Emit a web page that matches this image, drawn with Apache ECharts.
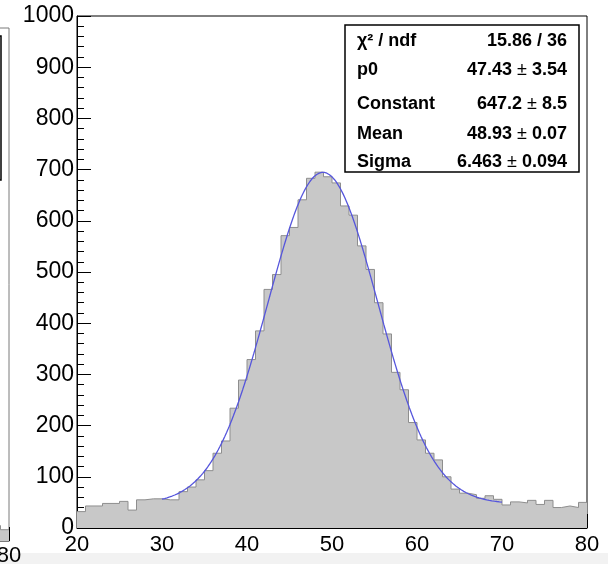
<!DOCTYPE html>
<html>
<head>
<meta charset="utf-8">
<script src="https://cdn.jsdelivr.net/npm/echarts@6/dist/echarts.min.js"></script>
<style>
  html, body { margin: 0; padding: 0; background: #fff; }
  #chart { width: 608px; height: 564px; }
</style>
</head>
<body>
<div id="chart"></div>
<script>
// Histogram: one-unit bins from 20 to 80 (lower edges and counts)
const binLowEdges = [
  20, 21, 22, 23, 24, 25, 26, 27, 28, 29,
  30, 31, 32, 33, 34, 35, 36, 37, 38, 39,
  40, 41, 42, 43, 44, 45, 46, 47, 48, 49,
  50, 51, 52, 53, 54, 55, 56, 57, 58, 59,
  60, 61, 62, 63, 64, 65, 66, 67, 68, 69,
  70, 71, 72, 73, 74, 75, 76, 77, 78, 79
];
const binCounts = [
  32, 43, 43, 48, 48, 52, 35, 55, 57, 57,
  55, 55, 71, 80, 94, 112, 146, 170, 234, 289,
  329, 385, 466, 495, 571, 587, 641, 683, 695, 686,
  674, 629, 611, 551, 505, 440, 379, 304, 270, 206,
  172, 146, 133, 100, 76, 68, 65, 58, 63, 56,
  45, 51, 49, 54, 46, 54, 40, 43, 40, 50
];
const histUpperEdge = 80;

// Fit: pol0 + gaus, fitted over [30, 70]
const fitNames  = ['p0', 'Constant', 'Mean', 'Sigma'];
const fitValues = [47.43, 647.2, 48.93, 6.463];
const fitErrors = [3.54, 8.5, 0.07, 0.094];
const fitRange  = [30, 70];
const fitChi2   = 15.86;
const fitNdf    = 36;

// Axis ticks
const xTicks = [20, 30, 40, 50, 60, 70, 80];
const yTicks = [0, 100, 200, 300, 400, 500, 600, 700, 800, 900, 1000];

// Tail of the neighbouring pad's histogram (only its last bins are on screen)
const sideEdges  = [78, 79];
const sideCounts = [30, 22];

const FONT = "'Liberation Sans', Arial, Helvetica, sans-serif";

function fitFunc(x) {
  const [p0, c, m, s] = fitValues;
  const t = (x - m) / s;
  return p0 + c * Math.exp(-0.5 * t * t);
}

function stepData(edges, counts, upper) {
  const d = edges.map((x, i) => [x, counts[i]]);
  d.push([upper, counts[counts.length - 1]]);
  return d;
}

const fitCurve = [];
const nSamples = 400;
for (let i = 0; i <= nSamples; i++) {
  const x = fitRange[0] + (fitRange[1] - fitRange[0]) * i / nSamples;
  fitCurve.push([x, fitFunc(x)]);
}

function axisCommon(ticks, gridIndex, lineColor, labelMargin, labelSize) {
  return {
    gridIndex: gridIndex,
    type: 'value',
    min: ticks[0],
    max: ticks[ticks.length - 1],
    interval: ticks[1] - ticks[0],
    axisLine: { show: true, onZero: false, lineStyle: { color: lineColor, width: 1 } },
    axisTick: { show: true, inside: true, length: 14, lineStyle: { color: '#000', width: 1 } },
    minorTick: { show: true, splitNumber: 5, length: 7, lineStyle: { color: '#000', width: 1 } },
    splitLine: { show: false },
    minorSplitLine: { show: false },
    axisLabel: { color: '#000', fontSize: labelSize, fontFamily: FONT, margin: labelMargin,
                 formatter: v => String(v) }
  };
}

// Stats box
const boxX = 345, boxY = 25, boxW = 234, boxH = 147;
const rowY = [41, 70, 104, 134, 162];
const textL = 357, textR = 567;
const rowLabels = ['\u03c7\u00b2 / ndf'].concat(fitNames);
const rowValues = [
  '{b|' + fitChi2 + ' / ' + fitNdf + '}'
].concat(fitValues.map((v, i) => '{b|' + v + '}{pm| \u00b1 }{b|' + fitErrors[i] + '}'));

const richText = {
  b:  { fontSize: 18, fontWeight: 'bold', fontFamily: FONT, fill: '#000' },
  pm: { fontSize: 18, fontWeight: 'normal', fontFamily: FONT, fill: '#000' }
};

const statsElements = [
  {
    type: 'rect',
    shape: { x: boxX, y: boxY, width: boxW, height: boxH },
    style: { fill: '#fff', stroke: '#000', lineWidth: 1.5 },
    z: 100
  }
];
rowLabels.forEach((lab, i) => {
  statsElements.push({
    type: 'text', x: textL, y: rowY[i], z: 101,
    style: { text: lab, font: 'bold 18px ' + FONT, fill: '#000',
             textAlign: 'left', textVerticalAlign: 'middle' }
  });
  statsElements.push({
    type: 'text', x: textR, y: rowY[i], z: 101,
    style: { text: rowValues[i], rich: richText, fill: '#000',
             textAlign: 'right', textVerticalAlign: 'middle' }
  });
});

const chart = echarts.init(document.getElementById('chart'), null, { renderer: 'canvas' });

chart.setOption({
  animation: false,
  backgroundColor: '#fff',
  grid: [
    { left: 77, top: 16, width: 510, height: 512, show: true,
      borderColor: '#000', borderWidth: 1, backgroundColor: 'transparent',
      containLabel: false, outerBoundsMode: 'none' },
    { left: -501, top: 28, width: 510, height: 513, show: true,
      borderColor: '#7a7a7a', borderWidth: 1, backgroundColor: 'transparent',
      containLabel: false, outerBoundsMode: 'none' }
  ],
  xAxis: [
    Object.assign(axisCommon(xTicks, 0, '#000', 6, 22), { position: 'bottom' }),
    Object.assign(axisCommon(xTicks, 1, '#7a7a7a', 4, 22), { position: 'bottom' })
  ],
  yAxis: [
    Object.assign(axisCommon(yTicks, 0, '#000', 3, 23), { position: 'left' }),
    Object.assign(axisCommon(yTicks, 1, '#7a7a7a', 3, 23), { position: 'left' })
  ],
  graphic: [
    { type: 'rect', shape: { x: 0, y: 553, width: 608, height: 11 },
      style: { fill: '#f2f2f2' }, z: -1, silent: true },
    { type: 'rect', shape: { x: -240, y: 36, width: 241, height: 144 },
      style: { fill: '#fff', stroke: '#000', lineWidth: 1.5 }, z: 100 }
  ].concat(statsElements),
  series: [
    {
      type: 'line', xAxisIndex: 0, yAxisIndex: 0,
      data: stepData(binLowEdges, binCounts, histUpperEdge),
      step: 'end', symbol: 'none', clip: true,
      lineStyle: { color: '#8e8e8e', width: 1 },
      areaStyle: { color: '#c8c8c8', opacity: 1 },
      z: 2
    },
    {
      type: 'line', xAxisIndex: 0, yAxisIndex: 0,
      data: fitCurve, symbol: 'none', smooth: false, clip: true,
      lineStyle: { color: '#5656dc', width: 1.3 },
      z: 3
    },
    {
      type: 'line', xAxisIndex: 1, yAxisIndex: 1,
      data: stepData(sideEdges, sideCounts, histUpperEdge),
      step: 'end', symbol: 'none', clip: true,
      lineStyle: { color: '#8e8e8e', width: 1 },
      areaStyle: { color: '#c8c8c8', opacity: 1 },
      z: 2
    }
  ]
});
</script>
</body>
</html>
